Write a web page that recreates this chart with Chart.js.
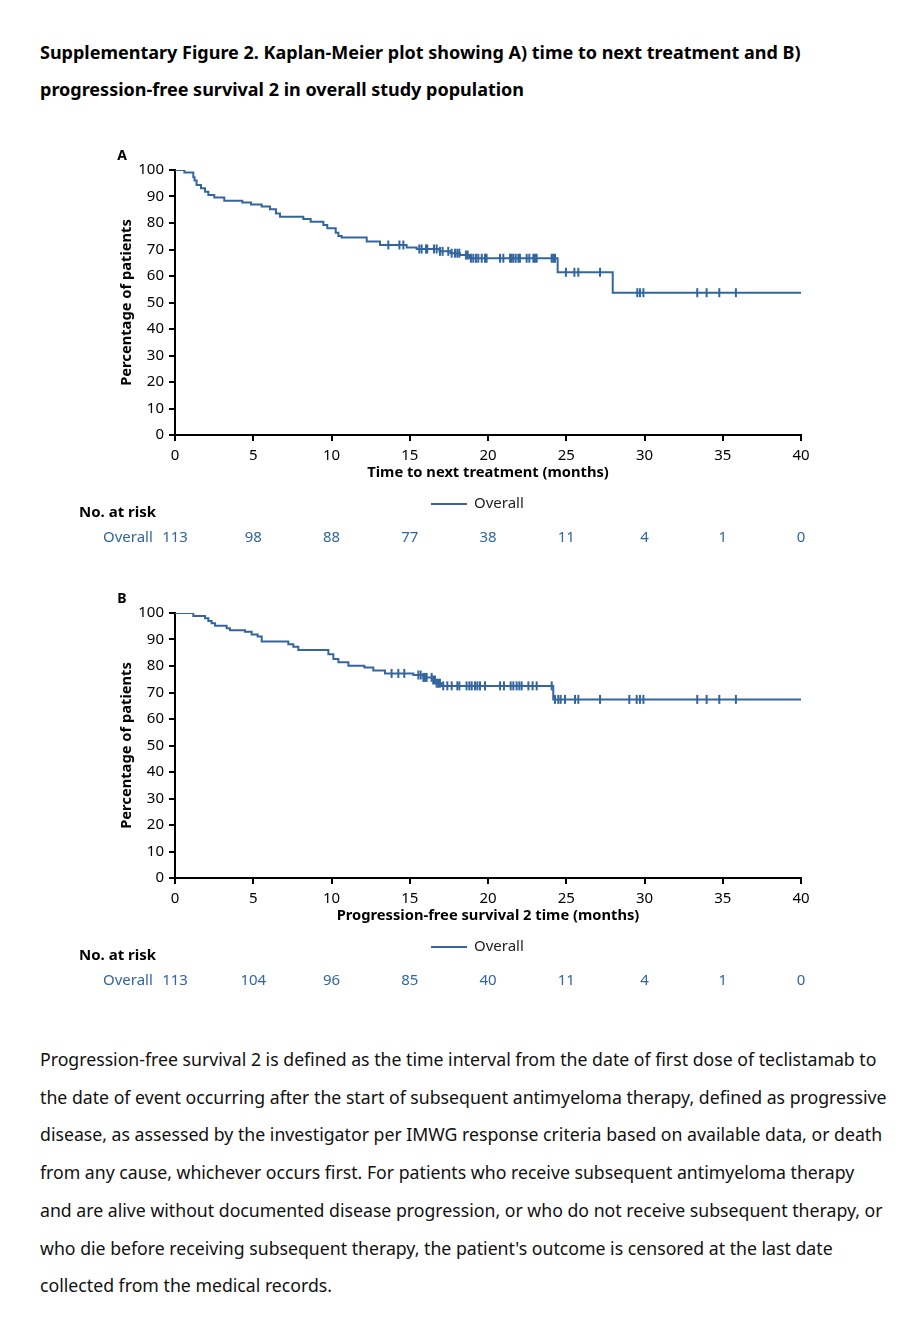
<!DOCTYPE html>
<html>
<head>
<meta charset="utf-8">
<script src="https://cdn.jsdelivr.net/npm/chart.js@4.4.0/dist/chart.umd.min.js"></script>
<style>
  body { margin: 0; background: #fff; font-family: "Noto Sans", sans-serif; color: #000; }
  #page { position: relative; width: 914px; height: 1334px; overflow: hidden; }
  .title { position: absolute; left: 40px; top: 34px; font-size: 18px; font-weight: bold; line-height: 37px; white-space: nowrap; }
  .note { position: absolute; left: 40px; top: 1041px; font-size: 17.7px; line-height: 37.7px; white-space: nowrap; color: #111; }
  canvas { position: absolute; left: 0; }
</style>
</head>
<body>
<div id="page">
  <div class="title">Supplementary Figure 2. Kaplan-Meier plot showing A) time to next treatment and B)<br>progression-free survival 2 in overall study population</div>
  <canvas id="chart-a" width="914" height="420" style="top:140px"></canvas>
  <canvas id="chart-b" width="914" height="420" style="top:583px"></canvas>
  <div class="note">Progression-free survival 2 is defined as the time interval from the date of first dose of teclistamab to<br>the date of event occurring after the start of subsequent antimyeloma therapy, defined as progressive<br>disease, as assessed by the investigator per IMWG response criteria based on available data, or death<br>from any cause, whichever occurs first. For patients who receive subsequent antimyeloma therapy<br>and are alive without documented disease progression, or who do not receive subsequent therapy, or<br>who die before receiving subsequent therapy, the patient's outcome is censored at the last date<br>collected from the medical records.</div>
</div>
<script>
  // Panel A: time to next treatment (event times in months, survival %)
  const eventTimesA = [0, 0.6, 1.17, 1.25, 1.38, 1.66, 1.92, 2.13, 2.51, 3.15, 4.30, 4.86, 5.54, 6.07, 6.45, 6.71, 8.20, 8.67, 9.48, 9.73, 10.27, 10.44, 10.65, 12.25, 13.1, 14.8, 15.44, 16.9, 17.6, 18.2, 18.8, 24.45, 27.97, 40];
  const survivalA = [100, 99.1, 97.3, 96.0, 94.3, 93.1, 91.8, 90.6, 89.6, 88.4, 87.7, 87.0, 86.2, 85.2, 83.6, 82.4, 81.5, 80.5, 79.2, 78.0, 76.3, 75.1, 74.5, 73.0, 71.7, 70.8, 70.2, 69.3, 68.6, 67.9, 66.7, 61.4, 53.7, 53.7];
  const censorTimesA = [13.63, 14.34, 14.59, 15.61, 15.76, 16.04, 16.12, 16.55, 16.72, 16.93, 17.1, 17.46, 17.68, 17.89, 18.04, 18.17, 18.59, 18.70, 18.91, 19.06, 19.23, 19.38, 19.6, 19.81, 19.91, 20.77, 20.98, 21.41, 21.51, 21.62, 21.77, 21.94, 22.04, 22.47, 22.64, 22.9, 23.0, 23.11, 24.07, 24.17, 24.28, 24.98, 25.52, 25.77, 27.16, 29.54, 29.71, 29.93, 33.37, 33.97, 34.78, 35.84];
  const atRiskA = [113, 98, 88, 77, 38, 11, 4, 1, 0];

  // Panel B: progression-free survival 2
  const eventTimesB = [0, 1.17, 1.92, 2.13, 2.34, 2.56, 3.30, 3.51, 4.47, 4.90, 5.28, 5.54, 7.24, 7.56, 7.88, 9.80, 10.12, 10.44, 11.08, 12.10, 12.67, 13.42, 15.23, 15.87, 16.5, 16.72, 17.04, 24.17, 40];
  const survivalB = [100, 98.9, 98.0, 97.0, 96.1, 95.2, 94.2, 93.5, 92.9, 91.9, 91.1, 89.2, 88.2, 87.3, 86.0, 84.4, 82.6, 81.4, 80.1, 79.4, 78.3, 77.2, 76.6, 75.7, 74.7, 73.5, 72.5, 67.4, 67.4];
  const censorTimesB = [13.84, 14.27, 14.65, 15.55, 15.70, 15.87, 15.97, 16.08, 16.4, 16.5, 16.61, 16.72, 16.82, 16.93, 17.14, 17.4, 17.68, 18.04, 18.17, 18.63, 18.81, 18.96, 19.17, 19.32, 19.49, 19.81, 20.77, 21.02, 21.45, 21.62, 21.83, 22.0, 22.15, 22.58, 22.85, 23.11, 24.07, 24.28, 24.49, 24.64, 24.92, 25.56, 25.77, 27.16, 29.03, 29.5, 29.71, 29.93, 33.37, 33.97, 34.78, 35.84];
  const atRiskB = [113, 104, 96, 85, 40, 11, 4, 1, 0];

  const riskTimes = [0, 5, 10, 15, 20, 25, 30, 35, 40];
  const lineColor = '#33669f';
  const fontFamily = '"Noto Sans", sans-serif';

  // survival level at time t (step function)
  function levelAt(times, values, t) {
    let v = values[0];
    for (let i = 0; i < times.length; i++) {
      if (times[i] <= t) v = values[i];
    }
    return v;
  }

  const riskTablePlugin = {
    id: 'riskTable',
    afterDraw(chart, args, opts) {
      const ctx = chart.ctx;
      const xScale = chart.scales.x;
      ctx.save();
      // panel letter
      ctx.fillStyle = '#000';
      ctx.font = 'bold 14px ' + fontFamily;
      ctx.textAlign = 'center';
      ctx.textBaseline = 'middle';
      ctx.fillText(opts.letter, 122, 16);

      // legend
      ctx.strokeStyle = lineColor;
      ctx.lineWidth = 2;
      ctx.beginPath();
      ctx.moveTo(431, 364);
      ctx.lineTo(467, 364);
      ctx.stroke();
      ctx.fillStyle = '#222';
      ctx.font = '15px ' + fontFamily;
      ctx.textAlign = 'left';
      ctx.fillText('Overall', 474, 364);

      // number at risk
      ctx.fillStyle = '#000';
      ctx.font = 'bold 15px ' + fontFamily;
      ctx.fillText('No. at risk', 79, 373);
      ctx.fillStyle = lineColor;
      ctx.font = '15px ' + fontFamily;
      ctx.fillText('Overall', 103, 398);
      ctx.textAlign = 'center';
      riskTimes.forEach((t, i) => {
        ctx.fillText(String(opts.counts[i]), xScale.getPixelForValue(t), 398);
      });
      ctx.restore();
    }
  };

  function makeChart(canvasId, letter, times, values, censors, counts, xTitle) {
    const curve = times.map((t, i) => ({ x: t, y: values[i] }));
    const marks = censors.map(t => ({ x: t, y: levelAt(times, values, t) }));
    return new Chart(document.getElementById(canvasId).getContext('2d'), {
      type: 'line',
      data: {
        datasets: [{
          label: 'Overall',
          data: curve,
          borderColor: lineColor,
          borderWidth: 2,
          stepped: true,
          pointRadius: 0,
          fill: false
        }, {
          label: 'Censored',
          data: marks,
          showLine: false,
          pointStyle: 'line',
          rotation: 90,
          pointRadius: 4.5,
          pointBorderWidth: 2,
          borderColor: lineColor,
          pointBorderColor: lineColor
        }]
      },
      options: {
        responsive: false,
        animation: false,
        layout: { padding: { left: 110, right: 113, top: 30, bottom: 77 } },
        plugins: {
          legend: { display: false },
          tooltip: { enabled: false },
          riskTable: { letter: letter, counts: counts }
        },
        scales: {
          x: {
            type: 'linear',
            min: 0,
            max: 40,
            afterFit(scale) { scale.height = 48; },
            ticks: { stepSize: 5, color: '#000', padding: 6, font: { family: fontFamily, size: 15 } },
            grid: { drawOnChartArea: false, color: '#000', lineWidth: 2, tickLength: 6 },
            border: { color: '#000', width: 2 },
            title: { display: true, text: xTitle, color: '#000', padding: { top: 0, bottom: 1 }, font: { family: fontFamily, size: 14.7, weight: 'bold' } }
          },
          y: {
            min: 0,
            max: 100,
            afterFit(scale) { scale.width = 65; },
            ticks: { stepSize: 10, color: '#000', padding: 5, font: { family: fontFamily, size: 15 } },
            grid: { drawOnChartArea: false, color: '#000', lineWidth: 2, tickLength: 6 },
            border: { color: '#000', width: 2 },
            title: { display: true, text: 'Percentage of patients', color: '#000', padding: { top: 8, bottom: 0 }, font: { family: fontFamily, size: 14.7, weight: 'bold' } }
          }
        }
      },
      plugins: [riskTablePlugin]
    });
  }

  makeChart('chart-a', 'A', eventTimesA, survivalA, censorTimesA, atRiskA, 'Time to next treatment (months)');
  makeChart('chart-b', 'B', eventTimesB, survivalB, censorTimesB, atRiskB, 'Progression-free survival 2 time (months)');
</script>
</body>
</html>
